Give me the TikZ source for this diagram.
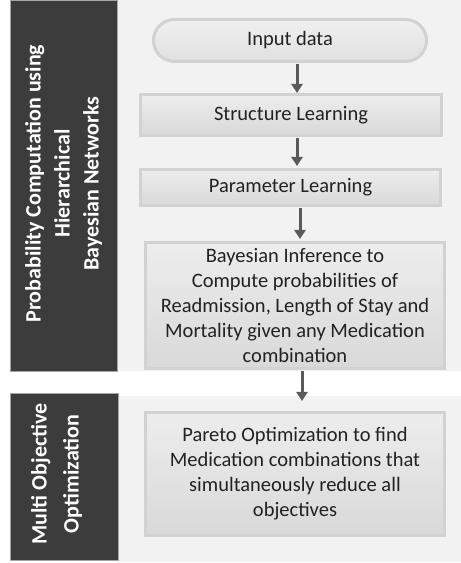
\documentclass[tikz,border=0pt]{standalone}
\usepackage{fontspec}
\setmainfont{Carlito}
\usetikzlibrary{arrows.meta}
\definecolor{barcol}{HTML}{3C3C3C}
\definecolor{panelcol}{HTML}{F2F2F2}
\definecolor{edgecol}{HTML}{D2D2D2}
\definecolor{arrcol}{HTML}{5A5A5A}
\definecolor{txtcol}{HTML}{222222}
\tikzset{
  bar/.style={fill=barcol, draw=gray!70, line width=0.6pt},
  panel/.style={fill=panelcol, draw=none},
  boxstep/.style={draw=edgecol, line width=3pt, top color=black!7, middle color=black!20, bottom color=black!15,
    align=center, inner sep=0pt, text=txtcol,
    font=\fontsize{20.5}{25}\selectfont},
  startbox/.style={boxstep, rounded corners=21pt, top color=black!6, middle color=black!14, bottom color=black!12},
  bartext/.style={rotate=90, text=white, align=center, font=\bfseries\fontsize{22}{29}\selectfont},
  arr/.style={draw=arrcol, line width=3pt, -{Triangle[width=11pt,length=9pt]}},
}
\begin{document}
\begin{tikzpicture}[x=1pt,y=1pt]
\useasboundingbox (0,0) rectangle (461,563);
% panels
\fill[panel] (117,192) rectangle (461,563);
\fill[panel] (118,1) rectangle (461,167);
\draw[bar] (10,192) rectangle (117,563);
\draw[bar] (10,3) rectangle (118,170);
% bar texts
\node[bartext] (t1) at (63.5,379.5) {Probability Computation using\\Hierarchical\\Bayesian Networks};
\node[bartext, font=\bfseries\fontsize{22}{32}\selectfont] (t2) at (56.5,89) {Multi Objective\\Optimization};
% boxes
\node[startbox, minimum width=273pt, minimum height=42pt] (input) at (290,522.5) {Input data};
\node[boxstep, minimum width=301pt, minimum height=41pt] (struct) at (291,448) {Structure Learning};
\node[boxstep, minimum width=300pt, minimum height=36pt] (param) at (290.5,375.5) {Parameter Learning};
\node[boxstep, minimum width=299pt, minimum height=126pt] (bayes) at (295,257.5) {Bayesian Inference to\\Compute probabilities of\\Readmission, Length of Stay and\\Mortality given any Medication\\combination};
\node[boxstep, minimum width=299pt, minimum height=123pt] (pareto) at (295,89) {Pareto Optimization to find\\Medication combinations that\\simultaneously reduce all\\objectives};
% arrow x positions
\coordinate (a1) at (297,0);
\coordinate (a2) at (297,0);
\coordinate (a3) at (300,0);
\coordinate (a4) at (302,0);
\draw[arr, shorten <=1pt] (input.south -| a1) -- (struct.north -| a1);
\draw[arr, shorten <=1.5pt, shorten >=2pt] (struct.south -| a2) -- (param.north -| a2);
\draw[arr, shorten <=1.5pt, shorten >=2pt] (param.south -| a3) -- (bayes.north -| a3);
\draw[arr, shorten <=1.5pt, shorten >=10pt] (bayes.south -| a4) -- (pareto.north -| a4);
\end{tikzpicture}
\end{document}
